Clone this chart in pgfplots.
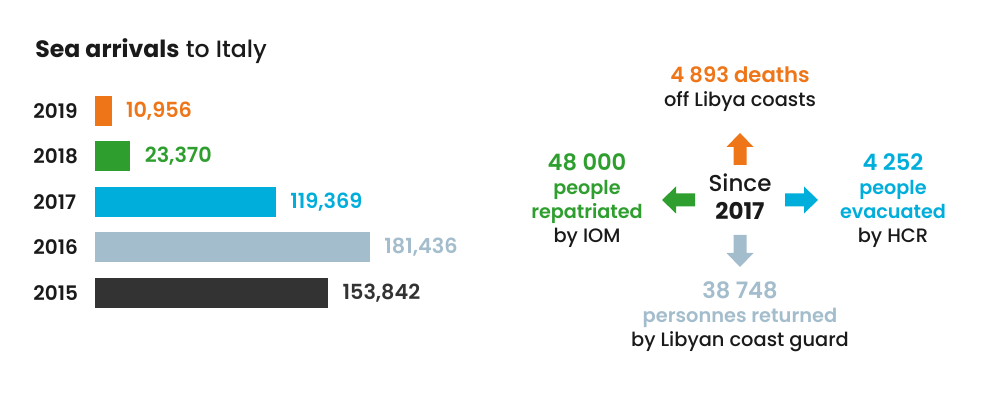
\documentclass[border=0pt]{standalone}
\usepackage{pgfplots}
\pgfplotsset{compat=1.18}
\usepackage{fontspec}
\setmainfont{Poppins}
\newfontfamily\pmed{Poppins Medium}
\newfontfamily\psemi{Poppins SemiBold}
\definecolor{cOr}{HTML}{EE7518}
\definecolor{cGr}{HTML}{2E9F2E}
\definecolor{cBl}{HTML}{00AEDB}
\definecolor{cGy}{HTML}{A4BDCD}
\definecolor{cDk}{HTML}{333333}
\definecolor{cTx}{HTML}{1A1A1A}
\begin{document}
\begin{tikzpicture}
\path[use as bounding box, fill=white] (0,0) rectangle (500pt,197pt);
\begin{axis}[
  at={(47.5pt,39.125pt)}, anchor=south west,
  scale only axis, width=137.5pt, height=113.75pt,
  xmin=0, xmax=181436, ymin=-0.5, ymax=4.5,
  xbar, bar shift=0pt, bar width=15pt,
  axis line style={draw=none}, major tick length=0pt,
  xtick=\empty, ytick={0,1,2,3,4},
  yticklabels={2015,2016,2017,2018,2019},
  yticklabel style={font=\fontsize{10}{12}\psemi, text=cTx, inner sep=0pt, xshift=-31pt, anchor=west},
  clip=false,
  point meta=x,
  nodes near coords={\pgfmathprintnumber[assume math mode=true,fixed,1000 sep={,}]{\pgfplotspointmeta}},
  every node near coord/.append style={anchor=west, inner sep=0pt, xshift=7pt, font=\fontsize{10.4}{12}\psemi},
]
\addplot[fill=cDk, draw=none, every node near coord/.append style={text=cDk}] coordinates {(153842,0)};
\addplot[fill=cGy, draw=none, every node near coord/.append style={text=cGy}] coordinates {(181436,1)};
\addplot[fill=cBl, draw=none, every node near coord/.append style={text=cBl}] coordinates {(119369,2)};
\addplot[fill=cGr, draw=none, every node near coord/.append style={text=cGr}] coordinates {(23370,3)};
\addplot[fill=cOr, draw=none, every node near coord/.append style={text=cOr}] coordinates {(10956,4)};
\end{axis}
\begin{scope}[x=0.5pt,y=0.5pt]
\node[anchor=base west, inner sep=0pt, text=cTx, font=\fontsize{11.8}{13}\selectfont] at (35,336) {\textbf{Sea arrivals} {\pmed to Italy}};
% arrows
\fill[cOr] (733.5,229) -- (746.5,229) -- (746.5,247) -- (753.5,247) -- (740,261) -- (726.5,247) -- (733.5,247) -- cycle;
\fill[cGy] (733.5,159) -- (746.5,159) -- (746.5,141) -- (753.5,141) -- (740,127) -- (726.5,141) -- (733.5,141) -- cycle;
\fill[cGr] (695,187.5) -- (695,200.5) -- (676,200.5) -- (676,207.5) -- (662,194) -- (676,180.5) -- (676,187.5) -- cycle;
\fill[cBl] (785,187.5) -- (785,200.5) -- (804,200.5) -- (804,207.5) -- (818,194) -- (804,180.5) -- (804,187.5) -- cycle;
% top
\node[anchor=base, inner sep=0pt, text=cOr, font=\fontsize{10.6}{12}\psemi] at (740,311) {4 893 deaths};
\node[anchor=base, inner sep=0pt, text=cTx, font=\fontsize{9.7}{11}\pmed] at (740,287) {off Libya coasts};
% center
\node[anchor=base, inner sep=0pt, text=cTx, font=\fontsize{11.5}{13}\pmed] at (740,202) {Since};
\node[anchor=base, inner sep=0pt, text=cTx, font=\fontsize{11.5}{13}\selectfont\bfseries] at (740,174) {2017};
% left
\node[anchor=base, inner sep=0pt, text=cGr, font=\fontsize{11.3}{13}\psemi] at (587,223) {48 000};
\node[anchor=base, inner sep=0pt, text=cGr, font=\fontsize{9.6}{11}\psemi] at (587,199) {people};
\node[anchor=base, inner sep=0pt, text=cGr, font=\fontsize{9.6}{11}\psemi] at (587,175) {repatriated};
\node[anchor=base, inner sep=0pt, text=cTx, font=\fontsize{9.7}{11}\pmed] at (587,151) {by IOM};
% right
\node[anchor=base, inner sep=0pt, text=cBl, font=\fontsize{11.3}{13}\psemi] at (893,223) {4 252};
\node[anchor=base, inner sep=0pt, text=cBl, font=\fontsize{9.6}{11}\psemi] at (893,199) {people};
\node[anchor=base, inner sep=0pt, text=cBl, font=\fontsize{9.6}{11}\psemi] at (893,175) {evacuated};
\node[anchor=base, inner sep=0pt, text=cTx, font=\fontsize{9.7}{11}\pmed] at (893,151) {by HCR};
% bottom
\node[anchor=base, inner sep=0pt, text=cGy, font=\fontsize{11.3}{13}\psemi] at (740,95) {38 748};
\node[anchor=base, inner sep=0pt, text=cGy, font=\fontsize{9.7}{11}\psemi] at (740,71) {personnes returned};
\node[anchor=base, inner sep=0pt, text=cTx, font=\fontsize{9.7}{11}\pmed] at (740,47) {by Libyan coast guard};
\end{scope}
\end{tikzpicture}
\end{document}
